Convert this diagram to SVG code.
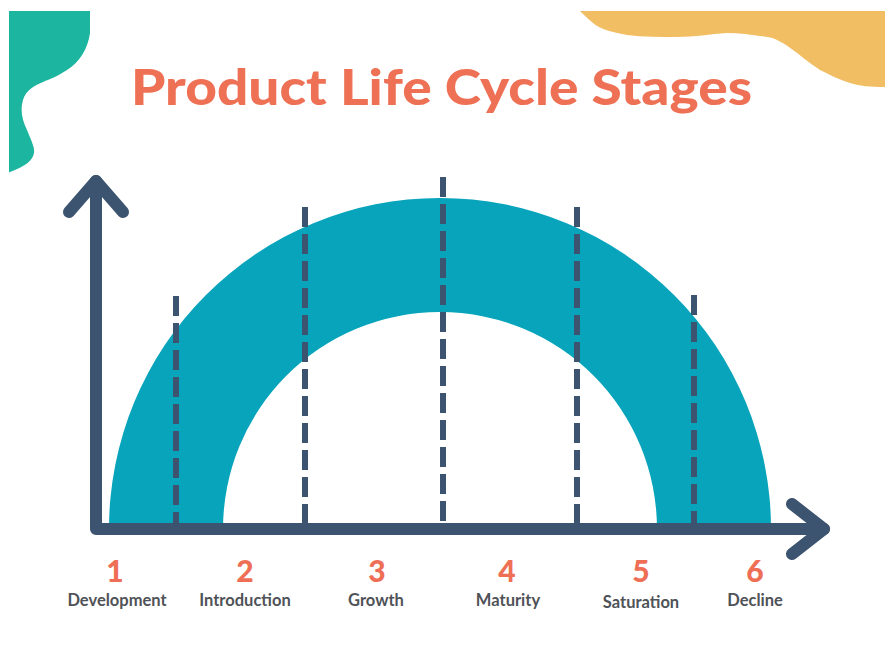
<svg xmlns="http://www.w3.org/2000/svg" width="891" height="646" viewBox="0 0 891 646">
  <defs>
    <style>
      .title { font-family: Lato, "Open Sans", "Liberation Sans", sans-serif; font-weight: 900; font-size: 49px; fill: #EE7156; }
      .num { font-family: Lato, "Open Sans", "Liberation Sans", sans-serif; font-weight: 900; font-size: 30px; fill: #EE6F55; text-anchor: middle; }
      .lbl { font-family: Lato, "Open Sans", "Liberation Sans", sans-serif; font-weight: 700; font-size: 16.5px; fill: #4F5257; text-anchor: middle; }
      .axis { stroke: #3D5470; stroke-width: 12; fill: none; stroke-linecap: round; stroke-linejoin: round; }
      .dash { stroke: #3D5470; stroke-width: 6; fill: none; stroke-dasharray: 20 7; }
    </style>
    <clipPath id="frame"><rect x="9" y="11" width="876" height="630"/></clipPath>
  </defs>
  <rect width="891" height="646" fill="#ffffff"/>
  <g id="blobs" clip-path="url(#frame)">
    <path d="M0,0 L90,0 L90,33 C88,48 80,62 67,70 C58,76 50,79 43,82 C34,86 26,90 23,100 C20,110 22,120 27,130 C31,140 35,148 34,153 C33,160 26,166 10,172 L0,176 Z" fill="#1CB59F"/>
    <path d="M575,0 L891,0 L891,87 L885,87 C870,87 860,86 850,83 C838,79 830,75 820,70 C808,62 800,55 793,50 C785,44 776,38 767,37 C752,35 740,33 727,33 C710,34 695,37 677,37 C660,37 643,37 627,35 C610,32 598,28 593,23 C587,18 583,14 580,11 Z" fill="#F2BE64"/>
  </g>
  <text class="title" x="131" y="105" textLength="621" lengthAdjust="spacingAndGlyphs">Product Life Cycle Stages</text>
  <g id="arch">
    <path d="M109,529 A331,331 0 0 1 771,529 L657,529 A217,217 0 0 0 223,529 Z" fill="#07A4BB"/>
  </g>
  <g id="connectors">
    <line class="dash" x1="176" y1="296" x2="176" y2="526"/>
    <line class="dash" x1="305" y1="207" x2="305" y2="526"/>
    <line class="dash" x1="443" y1="177" x2="443" y2="526"/>
    <line class="dash" x1="577" y1="207" x2="577" y2="526"/>
    <line class="dash" x1="694" y1="295" x2="694" y2="526"/>
  </g>
  <g id="axes">
    <path class="axis" d="M96,181 L96,529 L824,529"/>
    <path class="axis" d="M69,212 L96,181 L123,212"/>
    <path class="axis" d="M792,504 L824,529 L792,554"/>
  </g>
  <g id="stage1"><text class="num" x="115" y="582">1</text><text class="lbl" x="117" y="606">Development</text></g>
  <g id="stage2"><text class="num" x="245" y="582">2</text><text class="lbl" x="245" y="606">Introduction</text></g>
  <g id="stage3"><text class="num" x="377" y="582">3</text><text class="lbl" x="376" y="606">Growth</text></g>
  <g id="stage4"><text class="num" x="507" y="582">4</text><text class="lbl" x="508" y="606">Maturity</text></g>
  <g id="stage5"><text class="num" x="641" y="582">5</text><text class="lbl" x="641" y="608">Saturation</text></g>
  <g id="stage6"><text class="num" x="755" y="582">6</text><text class="lbl" x="755" y="606">Decline</text></g>
</svg>
